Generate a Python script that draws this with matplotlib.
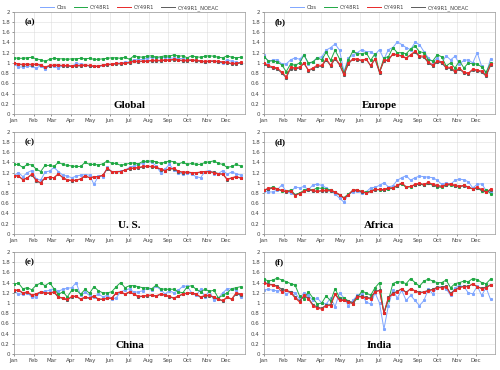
import matplotlib
matplotlib.use('Agg')
import matplotlib.pyplot as plt
import numpy as np

# weekly values, 52 weeks, one list per region and experiment
months = ['Jan', 'Feb', 'Mar', 'Apr', 'May', 'Jun', 'Jul', 'Aug', 'Sep', 'Oct', 'Nov', 'Dec']
month_days = [1, 32, 60, 91, 121, 152, 182, 213, 244, 274, 305, 335]
days = 1 + 7 * np.arange(52)

series_names = ['Obs', 'CY48R1', 'CY49R1', 'CY49R1_NOEAC']
panel_letters = ['(a)', '(b)', '(c)', '(d)', '(e)', '(f)']
regions = ['Global', 'Europe', 'U. S.', 'Africa', 'China', 'India']

global_obs = [0.98, 0.92, 0.92, 0.94, 0.93, 0.90, 0.94, 0.88, 0.94, 0.94, 0.90, 0.95, 0.94,
              0.93, 0.99, 0.97, 0.96, 0.94, 0.93, 0.93, 0.95, 0.97, 0.97, 0.99, 1.00, 1.01,
              1.02, 1.06, 1.06, 1.07, 1.09, 1.11, 1.10, 1.10, 1.11, 1.10, 1.09, 1.09, 1.08,
              1.07, 1.06, 1.05, 1.04, 1.02, 1.03, 1.04, 1.02, 1.00, 1.06, 1.03, 1.01, 1.00]
global_48 = [1.10, 1.09, 1.09, 1.10, 1.11, 1.08, 1.06, 1.03, 1.07, 1.09, 1.08, 1.08, 1.07,
             1.08, 1.08, 1.09, 1.08, 1.09, 1.07, 1.07, 1.08, 1.09, 1.10, 1.10, 1.09, 1.11,
             1.07, 1.14, 1.12, 1.11, 1.13, 1.14, 1.11, 1.12, 1.14, 1.13, 1.16, 1.13, 1.14,
             1.10, 1.14, 1.12, 1.11, 1.13, 1.14, 1.13, 1.11, 1.10, 1.14, 1.11, 1.10, 1.11]
global_49 = [1.00, 0.98, 0.97, 0.98, 0.97, 0.98, 0.96, 0.92, 0.95, 0.96, 0.96, 0.95, 0.95,
             0.94, 0.95, 0.95, 0.96, 0.95, 0.94, 0.94, 0.96, 0.97, 0.98, 0.99, 0.99, 1.00,
             1.01, 1.04, 1.03, 1.04, 1.04, 1.05, 1.05, 1.05, 1.06, 1.06, 1.07, 1.06, 1.05,
             1.05, 1.06, 1.05, 1.04, 1.03, 1.04, 1.04, 1.03, 1.02, 1.01, 0.99, 0.99, 1.01]
global_noeac = [0.99, 0.97, 0.96, 0.97, 0.96, 0.97, 0.95, 0.91, 0.94, 0.95, 0.95, 0.94, 0.94,
                0.93, 0.94, 0.94, 0.95, 0.94, 0.93, 0.93, 0.95, 0.96, 0.97, 0.98, 0.98, 0.99,
                1.00, 1.03, 1.02, 1.03, 1.03, 1.04, 1.04, 1.04, 1.05, 1.05, 1.06, 1.05, 1.04,
                1.04, 1.05, 1.04, 1.03, 1.02, 1.03, 1.03, 1.02, 1.01, 1.00, 0.98, 0.98, 1.00]

europe_obs = [1.15, 1.02, 1.06, 1.06, 0.98, 0.98, 1.06, 1.10, 1.07, 1.16, 0.98, 1.02, 1.10,
              1.12, 1.25, 1.30, 1.37, 1.25, 0.83, 1.10, 1.15, 1.20, 1.26, 1.22, 1.22, 1.16,
              1.26, 1.07, 1.26, 1.30, 1.41, 1.36, 1.30, 1.26, 1.40, 1.36, 1.22, 1.10, 1.02,
              1.09, 1.00, 1.14, 1.06, 1.13, 0.98, 1.05, 1.06, 1.00, 1.20, 0.93, 0.78, 1.08]
europe_48 = [1.12, 1.04, 1.04, 1.02, 0.96, 0.83, 0.98, 0.95, 1.00, 1.15, 1.00, 1.02, 1.10,
             1.06, 1.21, 1.05, 1.25, 1.08, 0.80, 1.06, 1.23, 1.18, 1.18, 1.20, 1.05, 1.18,
             0.82, 1.10, 1.12, 1.30, 1.20, 1.20, 1.18, 1.27, 1.33, 1.22, 1.20, 1.06, 1.04,
             1.16, 1.12, 0.94, 1.00, 0.90, 1.04, 0.90, 1.00, 0.98, 0.98, 0.92, 0.82, 1.00]
europe_49 = [1.00, 0.95, 0.92, 0.90, 0.82, 0.73, 0.92, 0.90, 0.92, 1.00, 0.86, 0.90, 0.96,
             0.95, 1.08, 0.96, 1.10, 0.98, 0.78, 1.00, 1.08, 1.08, 1.05, 1.08, 0.95, 1.08,
             0.83, 1.05, 1.06, 1.18, 1.16, 1.14, 1.10, 1.16, 1.23, 1.14, 1.13, 1.02, 0.96,
             1.04, 1.02, 0.92, 0.91, 0.84, 0.90, 0.82, 0.80, 0.88, 0.86, 0.84, 0.76, 0.97]
europe_noeac = [0.98, 0.93, 0.90, 0.88, 0.80, 0.71, 0.89, 0.88, 0.90, 0.99, 0.85, 0.88, 0.94,
                0.93, 1.06, 0.94, 1.08, 0.96, 0.76, 0.98, 1.07, 1.06, 1.04, 1.07, 0.94, 1.07,
                0.81, 1.04, 1.05, 1.17, 1.15, 1.13, 1.09, 1.15, 1.21, 1.12, 1.11, 1.00, 0.94,
                1.02, 1.00, 0.90, 0.89, 0.82, 0.88, 0.80, 0.79, 0.86, 0.84, 0.82, 0.74, 0.95]

us_obs = [1.14, 1.20, 1.12, 1.20, 1.24, 1.08, 1.05, 1.21, 1.23, 1.30, 1.22, 1.15, 1.13,
          1.10, 1.13, 1.15, 1.16, 1.15, 0.97, 1.13, 1.12, 1.30, 1.22, 1.22, 1.23, 1.25,
          1.30, 1.33, 1.36, 1.38, 1.42, 1.40, 1.33, 1.20, 1.27, 1.36, 1.25, 1.20, 1.17,
          1.20, 1.17, 1.12, 1.10, 1.22, 1.24, 1.18, 1.18, 1.24, 1.17, 1.21, 1.18, 1.15]
us_48 = [1.36, 1.36, 1.30, 1.36, 1.35, 1.27, 1.22, 1.34, 1.34, 1.32, 1.40, 1.36, 1.34,
         1.33, 1.32, 1.32, 1.40, 1.36, 1.36, 1.35, 1.37, 1.43, 1.38, 1.38, 1.34, 1.36,
         1.38, 1.39, 1.37, 1.42, 1.42, 1.43, 1.41, 1.38, 1.40, 1.43, 1.41, 1.37, 1.40,
         1.36, 1.38, 1.36, 1.36, 1.40, 1.41, 1.43, 1.38, 1.36, 1.30, 1.32, 1.36, 1.33]
us_49 = [1.14, 1.14, 1.06, 1.10, 1.17, 1.05, 1.00, 1.10, 1.11, 1.10, 1.18, 1.10, 1.06,
         1.05, 1.05, 1.08, 1.14, 1.10, 1.12, 1.12, 1.15, 1.28, 1.22, 1.22, 1.22, 1.25,
         1.28, 1.29, 1.30, 1.32, 1.33, 1.32, 1.31, 1.27, 1.24, 1.28, 1.28, 1.23, 1.21,
         1.21, 1.20, 1.20, 1.21, 1.22, 1.22, 1.20, 1.17, 1.17, 1.07, 1.10, 1.12, 1.10]
us_noeac = [1.13, 1.13, 1.06, 1.09, 1.16, 1.04, 0.99, 1.10, 1.10, 1.10, 1.17, 1.10, 1.05,
            1.04, 1.05, 1.07, 1.13, 1.10, 1.11, 1.12, 1.15, 1.27, 1.22, 1.21, 1.22, 1.25,
            1.27, 1.29, 1.29, 1.31, 1.32, 1.31, 1.30, 1.26, 1.24, 1.27, 1.27, 1.22, 1.20,
            1.21, 1.20, 1.19, 1.21, 1.22, 1.21, 1.21, 1.18, 1.17, 1.06, 1.09, 1.12, 1.09]

africa_obs = [0.84, 0.82, 0.82, 0.86, 0.96, 0.83, 0.80, 0.92, 0.90, 0.93, 0.86, 0.96, 0.97,
              0.95, 0.90, 0.85, 0.78, 0.70, 0.62, 0.78, 0.82, 0.83, 0.80, 0.82, 0.90, 0.91,
              0.95, 1.00, 0.92, 0.94, 1.05, 1.10, 1.14, 1.05, 1.10, 1.13, 1.12, 1.11, 1.10,
              1.05, 0.97, 1.00, 0.97, 1.05, 1.07, 1.06, 1.02, 0.90, 0.97, 0.98, 0.85, 0.82]
africa_48 = [0.85, 0.88, 0.92, 0.88, 0.84, 0.83, 0.86, 0.77, 0.80, 0.85, 0.88, 0.86, 0.90,
             0.89, 0.88, 0.86, 0.82, 0.76, 0.71, 0.78, 0.85, 0.86, 0.83, 0.81, 0.84, 0.87,
             0.86, 0.85, 0.88, 0.89, 0.94, 0.98, 0.91, 0.92, 0.96, 0.98, 0.95, 0.99, 0.95,
             0.92, 0.91, 0.95, 0.96, 0.93, 0.92, 0.95, 0.91, 0.88, 0.90, 0.84, 0.86, 0.79]
africa_49 = [0.86, 0.89, 0.90, 0.88, 0.85, 0.83, 0.84, 0.75, 0.79, 0.83, 0.87, 0.85, 0.83,
             0.85, 0.85, 0.85, 0.82, 0.77, 0.70, 0.76, 0.86, 0.86, 0.83, 0.80, 0.83, 0.87,
             0.87, 0.87, 0.90, 0.90, 0.95, 1.00, 0.92, 0.93, 0.97, 0.99, 0.97, 1.01, 0.97,
             0.95, 0.93, 0.97, 0.98, 0.95, 0.93, 0.95, 0.92, 0.88, 0.91, 0.87, 0.81, 0.88]
africa_noeac = [0.86, 0.88, 0.89, 0.87, 0.85, 0.82, 0.84, 0.76, 0.79, 0.83, 0.86, 0.84, 0.83,
                0.84, 0.84, 0.84, 0.81, 0.76, 0.70, 0.76, 0.85, 0.85, 0.82, 0.80, 0.83, 0.86,
                0.87, 0.86, 0.89, 0.90, 0.94, 0.99, 0.92, 0.93, 0.96, 0.98, 0.96, 1.00, 0.96,
                0.94, 0.93, 0.96, 0.97, 0.94, 0.93, 0.94, 0.91, 0.88, 0.90, 0.86, 0.81, 0.86]

china_obs = [1.23, 1.18, 1.17, 1.20, 1.12, 1.12, 1.22, 1.23, 1.25, 1.28, 1.23, 1.27, 1.29,
             1.30, 1.40, 1.15, 1.21, 1.15, 1.12, 1.18, 1.12, 1.15, 1.08, 1.10, 1.22, 1.25,
             1.28, 1.21, 1.22, 1.24, 1.29, 1.25, 1.33, 1.26, 1.18, 1.24, 1.20, 1.25, 1.33,
             1.33, 1.20, 1.15, 1.27, 1.12, 1.24, 1.05, 1.10, 1.20, 1.28, 1.28, 1.25, 1.12]
china_48 = [1.37, 1.39, 1.28, 1.30, 1.26, 1.35, 1.39, 1.34, 1.40, 1.28, 1.17, 1.22, 1.12,
            1.25, 1.26, 1.17, 1.27, 1.19, 1.32, 1.24, 1.20, 1.20, 1.22, 1.32, 1.40, 1.30,
            1.34, 1.34, 1.32, 1.30, 1.30, 1.28, 1.35, 1.28, 1.27, 1.27, 1.27, 1.22, 1.20,
            1.32, 1.34, 1.27, 1.22, 1.27, 1.23, 1.25, 1.10, 1.15, 1.20, 1.28, 1.30, 1.32]
china_49 = [1.25, 1.26, 1.20, 1.22, 1.16, 1.18, 1.22, 1.20, 1.20, 1.22, 1.12, 1.10, 1.07,
            1.13, 1.14, 1.08, 1.12, 1.10, 1.14, 1.08, 1.08, 1.10, 1.10, 1.20, 1.22, 1.18,
            1.22, 1.18, 1.13, 1.14, 1.15, 1.16, 1.14, 1.18, 1.16, 1.13, 1.10, 1.14, 1.18,
            1.20, 1.20, 1.18, 1.12, 1.15, 1.15, 1.12, 1.08, 1.05, 1.12, 1.08, 1.20, 1.18]
china_noeac = [1.24, 1.25, 1.19, 1.21, 1.15, 1.17, 1.21, 1.19, 1.19, 1.21, 1.11, 1.09, 1.06,
               1.12, 1.13, 1.07, 1.11, 1.09, 1.13, 1.07, 1.07, 1.09, 1.09, 1.19, 1.21, 1.17,
               1.21, 1.17, 1.12, 1.13, 1.14, 1.15, 1.13, 1.17, 1.15, 1.12, 1.09, 1.13, 1.17,
               1.19, 1.19, 1.17, 1.11, 1.14, 1.14, 1.11, 1.07, 1.04, 1.11, 1.07, 1.18, 1.16]

india_obs = [1.25, 1.27, 1.25, 1.24, 1.24, 1.18, 1.22, 1.20, 1.08, 1.20, 1.15, 1.05, 1.10,
             1.00, 0.98, 1.10, 0.93, 1.20, 1.10, 0.95, 1.05, 1.15, 1.17, 1.02, 0.98, 1.20,
             1.00, 0.49, 0.95, 1.25, 1.10, 1.25, 1.05, 1.15, 1.05, 0.95, 1.05, 1.27, 1.18,
             1.30, 1.32, 1.28, 1.15, 1.30, 1.34, 1.32, 1.20, 1.18, 1.33, 1.15, 1.30, 1.07]
india_48 = [1.47, 1.43, 1.45, 1.49, 1.45, 1.42, 1.38, 1.35, 1.14, 1.08, 1.22, 1.10, 0.98,
            1.00, 1.14, 1.04, 1.28, 1.10, 1.10, 1.04, 0.98, 1.10, 1.23, 1.20, 1.15, 1.30,
            1.40, 0.80, 1.05, 1.38, 1.42, 1.41, 1.38, 1.48, 1.40, 1.33, 1.43, 1.47, 1.43,
            1.40, 1.40, 1.45, 1.30, 1.38, 1.40, 1.43, 1.42, 1.48, 1.46, 1.40, 1.38, 1.47]
india_49 = [1.40, 1.36, 1.35, 1.32, 1.22, 1.25, 1.20, 1.10, 1.02, 1.15, 1.08, 0.95, 0.90,
            0.88, 0.95, 0.95, 1.17, 1.05, 1.05, 1.02, 0.99, 1.12, 1.12, 1.10, 1.08, 1.22,
            1.24, 0.80, 1.10, 1.18, 1.22, 1.28, 1.20, 1.28, 1.24, 1.20, 1.21, 1.24, 1.26,
            1.30, 1.30, 1.32, 1.17, 1.25, 1.30, 1.32, 1.32, 1.38, 1.32, 1.28, 1.30, 1.35]
india_noeac = [1.41, 1.37, 1.36, 1.33, 1.27, 1.25, 1.22, 1.12, 1.04, 1.14, 1.10, 0.97, 0.92,
               0.90, 0.96, 0.97, 1.18, 1.07, 1.06, 1.04, 1.01, 1.13, 1.13, 1.11, 1.10, 1.23,
               1.25, 0.81, 1.11, 1.19, 1.23, 1.28, 1.21, 1.28, 1.24, 1.21, 1.22, 1.25, 1.27,
               1.31, 1.31, 1.33, 1.19, 1.26, 1.31, 1.33, 1.33, 1.37, 1.32, 1.29, 1.31, 1.36]

panel_data = [
    [global_obs, global_48, global_49, global_noeac],
    [europe_obs, europe_48, europe_49, europe_noeac],
    [us_obs, us_48, us_49, us_noeac],
    [africa_obs, africa_48, africa_49, africa_noeac],
    [china_obs, china_48, china_49, china_noeac],
    [india_obs, india_48, india_49, india_noeac],
]

colors = ['#7fa6ff', '#20a844', '#e82828', '#5a5a5a']
zorders = [2, 3, 5, 4]

fig = plt.figure(figsize=(5, 3.7), dpi=100)

lefts = [0.028, 0.528]
bottoms = [0.692, 0.368, 0.043]
w, h = 0.462, 0.276

for k in range(6):
    row, col = divmod(k, 2)
    ax = fig.add_axes([lefts[col], bottoms[row], w, h])
    for s in range(4):
        ax.plot(days, panel_data[k][s], color=colors[s], lw=0.7, marker='s', ms=1.2,
                mec=colors[s], mfc=colors[s], zorder=zorders[s], label=series_names[s])
    ax.set_xlim(1, 365)
    ax.set_ylim(0, 2)
    ax.set_xticks(month_days)
    ax.set_xticklabels(months)
    ax.set_yticks(np.arange(0, 2.01, 0.2))
    ax.set_yticklabels(['0', '0.2', '0.4', '0.6', '0.8', '1', '1.2', '1.4', '1.6', '1.8', '2'])
    ax.tick_params(labelsize=4, length=1.5, width=0.4, pad=1.5, colors='#444444')
    ax.grid(True, color='#dddddd', lw=0.4)
    for sp in ax.spines.values():
        sp.set_color('#999999')
        sp.set_linewidth(0.5)
    ax.text(0.045, 0.9, panel_letters[k], transform=ax.transAxes, family='Liberation Serif',
            fontweight='bold', fontsize=6.5, va='center', ha='left')
    ax.text(0.5, 0.08, regions[k], transform=ax.transAxes, family='Liberation Serif',
            fontweight='bold', fontsize=8, va='center', ha='center')
    if row == 0:
        leg = ax.legend(loc='lower center', bbox_to_anchor=(0.5, 0.99), ncol=4, frameon=False,
                        fontsize=3.8, handlelength=2.6, columnspacing=1.3, handletextpad=0.5,
                        borderaxespad=0, markerscale=0)
        for t in leg.get_texts():
            t.set_color('#444444')

fig.savefig('out.png', dpi=100)
